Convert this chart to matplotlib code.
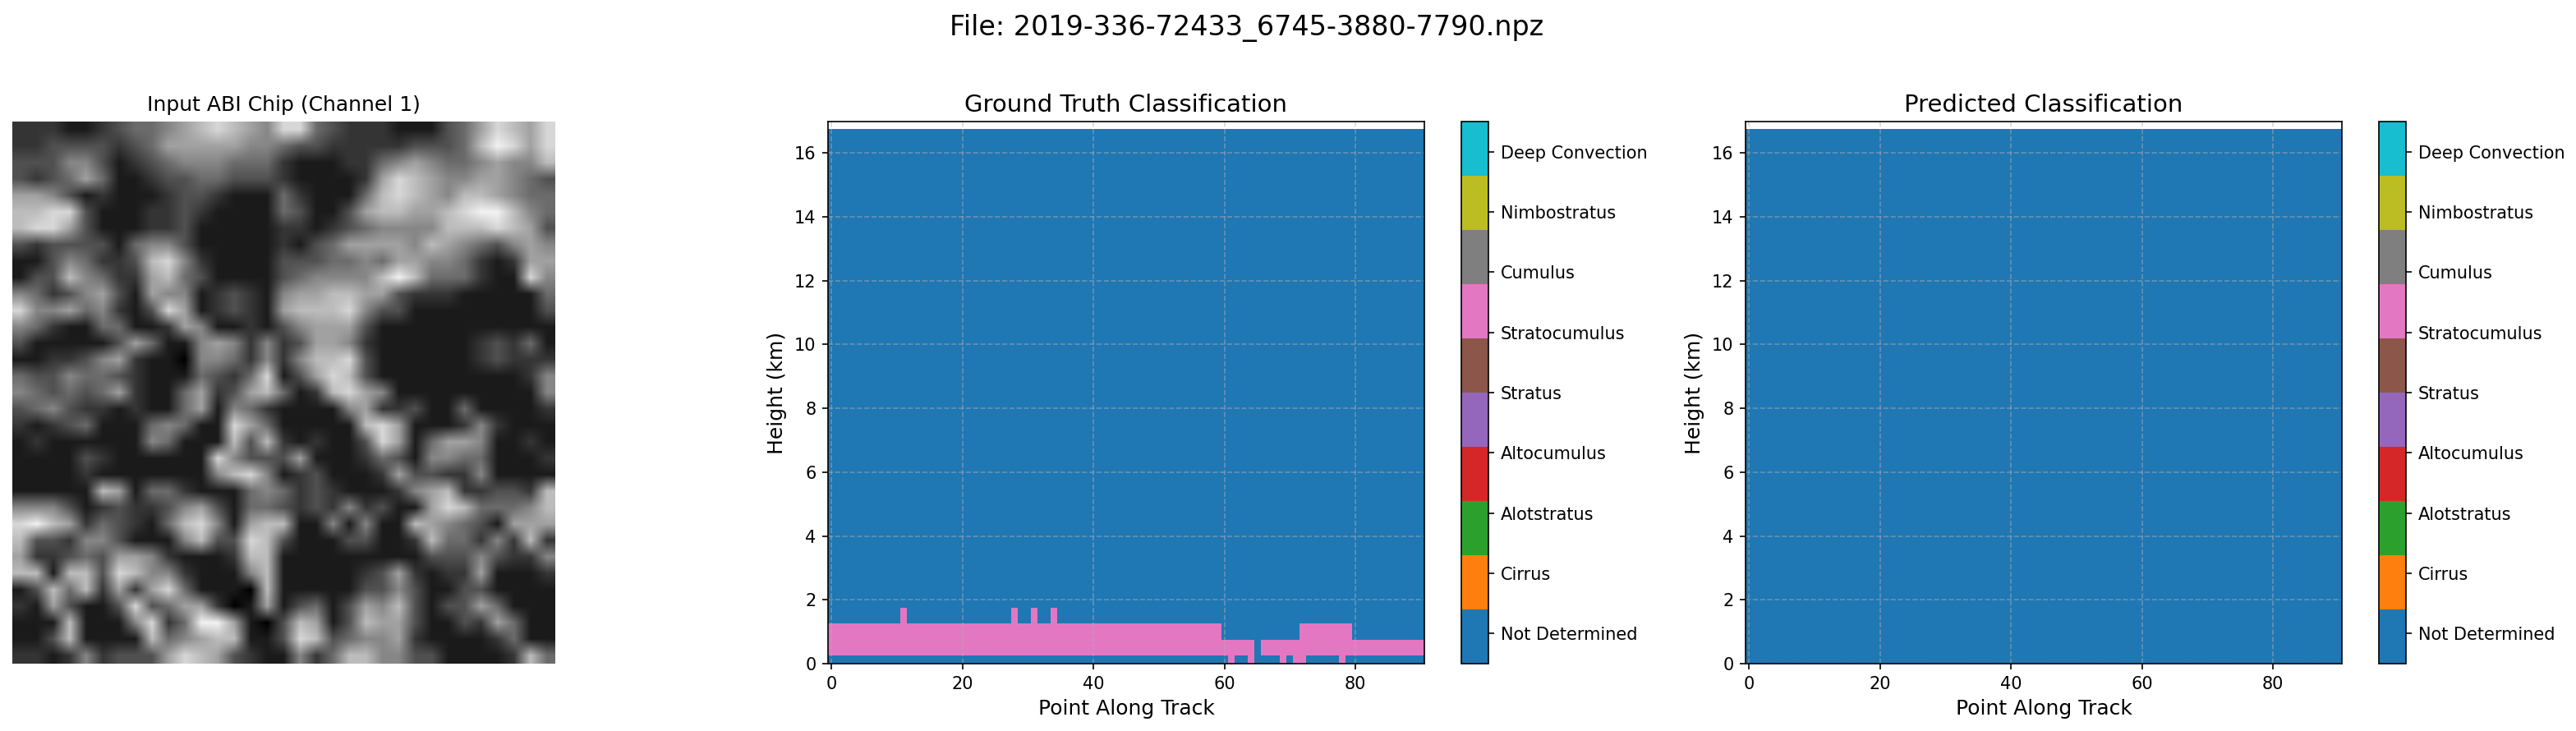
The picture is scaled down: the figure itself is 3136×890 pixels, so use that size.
import matplotlib
matplotlib.use('Agg')
import matplotlib.pyplot as plt
from matplotlib.colors import BoundaryNorm, ListedColormap
import numpy as np

file_name = '2019-336-72433_6745-3880-7790.npz'
class_names = ['Not Determined', 'Cirrus', 'Alotstratus', 'Altocumulus', 'Stratus',
               'Stratocumulus', 'Cumulus', 'Nimbostratus', 'Deep Convection']

# brightness of the chip, coarse grid, 0 dark to 9 bright
chip_rows = [
    '2221123445678765' + '88432221113468768',
    '2233332346666655' + '43322222333479868',
    '3335531234555444' + '21112245654456557',
    '3234641123344333' + '21111268765566543',
    '6653121112332111' + '42111478765776544',
    '7788311122321111' + '43113677667899754',
    '7886311122311111' + '22123455557778763',
    '3233331455311111' + '21346666576543565',
    '1135422378521111' + '33344546655421266',
    '1337542267431111' + '34555579744421185',
    '5423563165512321' + '56677663222111114',
    '8556452138612321' + '67778533111111113',
    '5421144112651121' + '35666311111111111',
    '3111113641156525' + '23665211111123241',
    '1122356211055425' + '25778311111123222',
    '4335443211143248' + '13687311111111125',
    '5434346211462367' + '41278651111111115',
    '3453221211461542' + '11115622311411112',
    '2123411145411864' + '11111786111252111',
    '1211111154111737' + '21211386146651121',
    '1111321111118533' + '36111243155441112',
    '1111211111115785' + '12311126332251111',
    '1111176144211145' + '42321112567223327',
    '5553123223563144' + '32325231168744457',
    '8976243214785167' + '71151511765431666',
    '7332553111573387' + '31113311274425272',
    '6223436652111277' + '11111111133353225',
    '7717738755211157' + '11111236212261112',
    '1374726268411107' + '11111335311331111',
    '2163113834662016' + '13413657313364111',
    '1117111582499610' + '37613766311326411',
    '1137111174567711' + '38734556211112411',
    '2212523336876321' + '15247755331111274',
]
chip = np.array([[int(c) for c in row] for row in chip_rows], dtype=float)

# cloud type per height bin, pink bins of the ground truth curtain
n_points = 91
heights = np.arange(0, 17, 0.5)
stratocumulus = 5
row0_columns = [61, 64, 69, 71, 72, 78]
row1_columns = list(range(0, 65)) + list(range(66, 91))
row2_columns = list(range(0, 60)) + list(range(72, 80))
row3_columns = [11, 28, 31, 34]

truth = np.zeros((len(heights), n_points), dtype=int)
truth[0, row0_columns] = stratocumulus
truth[1, row1_columns] = stratocumulus
truth[2, row2_columns] = stratocumulus
truth[3, row3_columns] = stratocumulus
predicted = np.zeros((len(heights), n_points), dtype=int)

W, H = 3136, 890
fig = plt.figure(figsize=(W / 150, H / 150), dpi=150)


def place(x0, y0, x1, y1):
    return fig.add_axes([x0 / W, 1 - y1 / H, (x1 - x0) / W, (y1 - y0) / H])


fig.suptitle('File: ' + file_name, fontsize=16, x=0.484, y=0.981)

ax_chip = place(15, 148, 676, 808)
ax_chip.imshow(chip, cmap='gray', vmin=0, vmax=9.5, interpolation='bilinear', aspect='auto')
ax_chip.set_title('Input ABI Chip (Channel 1)', fontsize=12)
ax_chip.axis('off')

# ten colour slots squeezed onto nine names, so the ticks do not sit mid segment
cmap = ListedColormap(plt.get_cmap('tab10').colors)
norm = BoundaryNorm(np.linspace(-0.5, 8.5, 11), 10)

panels = [
    ('Ground Truth Classification', truth, (1008, 1734), (1779, 1812)),
    ('Predicted Classification', predicted, (2125, 2851), (2896, 2929)),
]
for title, data, (x0, x1), (c0, c1) in panels:
    ax = place(x0, 148, x1, 808)
    mesh = ax.pcolormesh(np.arange(n_points), heights, data, cmap=cmap, norm=norm, shading='nearest')
    ax.set_ylim(0, 16.98)
    ax.set_xlim(-0.5, 90.5)
    ax.set_title(title, fontsize=14)
    ax.set_xlabel('Point Along Track', fontsize=12)
    ax.set_ylabel('Height (km)', fontsize=12)
    ax.grid(True, linestyle='--', alpha=0.5)
    cax = place(c0, 148, c1, 808)
    cbar = fig.colorbar(mesh, cax=cax, ticks=np.arange(9))
    cbar.ax.set_yticklabels(class_names)
    cbar.ax.minorticks_off()

plt.savefig('out.png', dpi=150)
plt.close()
